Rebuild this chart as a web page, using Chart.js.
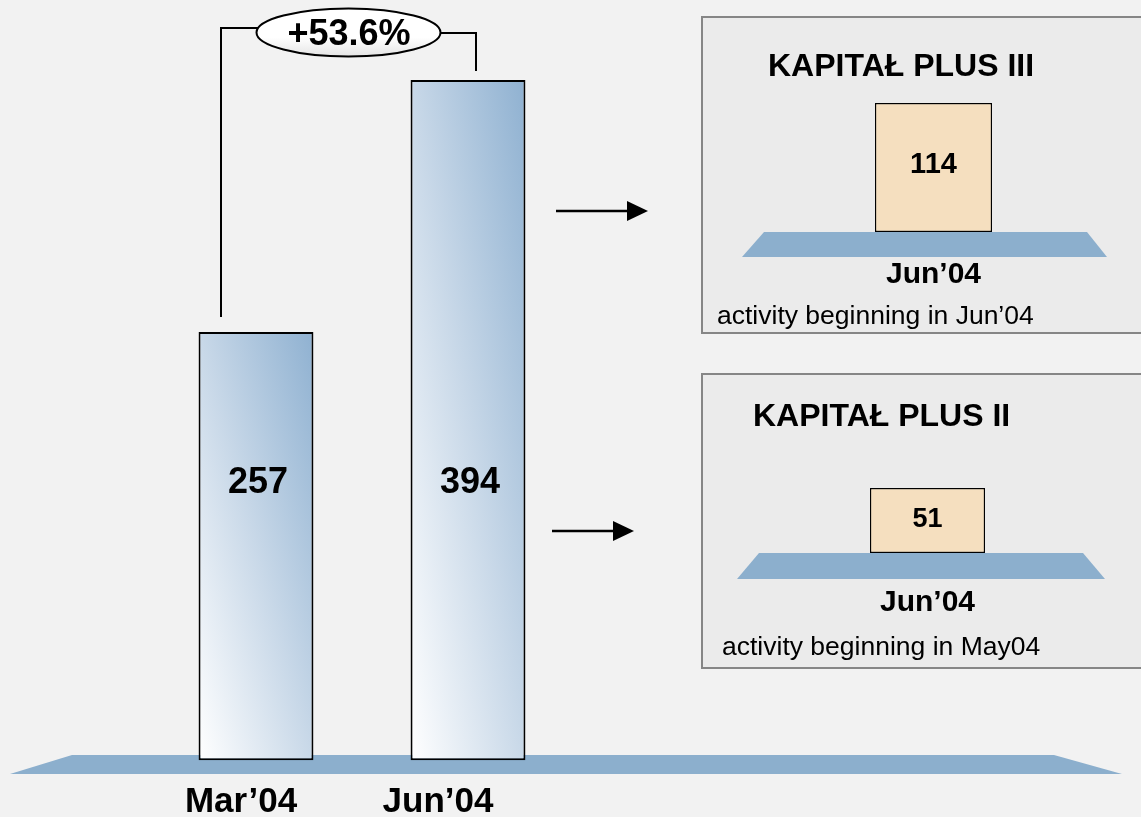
<!DOCTYPE html>
<html><head><meta charset="utf-8">
<script src="https://cdn.jsdelivr.net/npm/chart.js@4.4.0/dist/chart.umd.min.js"></script>
<style>
html,body{margin:0;padding:0;background:#f2f2f2;width:1141px;height:817px;overflow:hidden;}
.panel{position:absolute;background:#ebebeb;border:2px solid #868686;border-right:none;box-sizing:border-box;}
canvas{position:absolute;left:0;top:0;}
</style></head><body>
<div class="panel" style="left:701px;top:16px;width:440px;height:318px"></div>
<div class="panel" style="left:701px;top:373px;width:440px;height:296px"></div>
<canvas id="main" width="1141" height="817"></canvas>
<canvas id="p1" width="1141" height="817"></canvas>
<canvas id="p2" width="1141" height="817"></canvas>
<script>
// ---- data ----
const mainCategories = ["Mar\u201904", "Jun\u201904"];
const mainValues = [257, 394];
const growthLabel = "+53.6%";

const panel1Title = "KAPITAŁ PLUS III";
const panel1Categories = ["Jun\u201904"];
const panel1Values = [114];
const panel1Note = "activity beginning in Jun\u201904";

const panel2Title = "KAPITAŁ PLUS II";
const panel2Categories = ["Jun\u201904"];
const panel2Values = [51];
const panel2Note = "activity beginning in May04";

// ---- styling ----
const FONT = '"Liberation Sans", Arial, Helvetica, sans-serif';
const FLOOR = '#8cafcd';
const MAIN_BASE = 24.2;     // value at the floor line (axis is broken)
const MAIN_BAR_PCT = 0.542;

function barGradient(ctx) {
  const chart = ctx.chart;
  if (!chart.chartArea || ctx.type !== 'data') return '#c0d2e4';
  const xs = chart.scales.x, ys = chart.scales.y;
  const cx = xs.getPixelForValue(ctx.dataIndex);
  const W = chart.chartArea.width / chart.data.labels.length * MAIN_BAR_PCT;
  const top = ys.getPixelForValue(ctx.raw), bottom = ys.getPixelForValue(MAIN_BASE);
  const H = bottom - top;
  const left = cx - W / 2;
  const k = 2 * W * H / (H * H + W * W);
  const g = chart.ctx.createLinearGradient(left, bottom, left + k * H, bottom - k * W);
  g.addColorStop(0, '#ffffff');
  g.addColorStop(0.5, '#c8d8e8');
  g.addColorStop(1, '#8fb1d1');
  return g;
}

function poly(ctx, pts, fill) {
  ctx.beginPath();
  ctx.moveTo(pts[0][0], pts[0][1]);
  for (let i = 1; i < pts.length; i++) ctx.lineTo(pts[i][0], pts[i][1]);
  ctx.closePath();
  ctx.fillStyle = fill;
  ctx.fill();
}

function arrow(ctx, x0, x1, y) {
  ctx.save();
  ctx.strokeStyle = '#000'; ctx.lineWidth = 2.5;
  ctx.beginPath(); ctx.moveTo(x0, y); ctx.lineTo(x1 - 20, y); ctx.stroke();
  poly(ctx, [[x1 - 21, y - 10], [x1, y], [x1 - 21, y + 10]], '#000');
  ctx.restore();
}

const mainDecor = {
  id: 'mainDecor',
  beforeDatasetsDraw(chart) {
    const ctx = chart.ctx;
    poly(ctx, [[72, 755], [1054, 755], [1122, 774], [10, 774]], FLOOR);
  },
  afterDatasetsDraw(chart) {
    const ctx = chart.ctx;
    const xs = chart.scales.x, ys = chart.scales.y;
    const nudge = [-15, -30];
    ctx.save();
    ctx.fillStyle = '#000';
    ctx.textAlign = 'center';
    ctx.textBaseline = 'alphabetic';
    mainValues.forEach((v, i) => {
      const x = xs.getPixelForValue(i);
      ctx.font = 'bold 36px ' + FONT;
      ctx.fillText(String(v), x + 2, 493);
      ctx.font = 'bold 35px ' + FONT;
      ctx.fillText(mainCategories[i], x + nudge[i], 812);
    });
    // bracket
    const x0 = xs.getPixelForValue(0), x1 = xs.getPixelForValue(1);
    const t0 = ys.getPixelForValue(mainValues[0]), t1 = ys.getPixelForValue(mainValues[1]);
    ctx.strokeStyle = '#000'; ctx.lineWidth = 2;
    ctx.beginPath();
    ctx.moveTo(x0 - 35, t0 - 15); ctx.lineTo(x0 - 35, 28); ctx.lineTo(270, 28);
    ctx.moveTo(430, 33); ctx.lineTo(x1 + 8, 33); ctx.lineTo(x1 + 8, t1 - 9);
    ctx.stroke();
    // ellipse
    const g = ctx.createLinearGradient(0, 8, 0, 57);
    g.addColorStop(0, '#ffffff'); g.addColorStop(0.6, '#ffffff'); g.addColorStop(1, '#e4e4e4');
    ctx.beginPath();
    ctx.ellipse(348.5, 32.5, 92, 24, 0, 0, Math.PI * 2);
    ctx.fillStyle = g; ctx.fill();
    ctx.lineWidth = 2; ctx.stroke();
    ctx.fillStyle = '#000';
    ctx.font = 'bold 36px ' + FONT;
    ctx.fillText(growthLabel, 349, 45);
    // arrows
    arrow(ctx, 556, 648, 211);
    arrow(ctx, 552, 634, 531);
    ctx.restore();
  }
};

new Chart(document.getElementById('main'), {
  type: 'bar',
  data: {
    labels: mainCategories,
    datasets: [{
      data: mainValues,
      base: MAIN_BASE,
      backgroundColor: barGradient,
      borderColor: '#000',
      borderWidth: 2,
      borderSkipped: false,
      barPercentage: MAIN_BAR_PCT,
      categoryPercentage: 1,
      clip: false
    }]
  },
  options: {
    responsive: false, animation: false, events: [],
    layout: { padding: { left: 150, right: 567, top: 0, bottom: 12.3 } },
    scales: { x: { display: false }, y: { display: false, min: 0, max: 437.5 } },
    plugins: { legend: { display: false }, tooltip: { enabled: false } }
  },
  plugins: [mainDecor]
});

function makePanel(id, cats, vals, title, note, geo) {
  const decor = {
    id: 'panelDecor' + id,
    beforeDatasetsDraw(chart) {
      poly(chart.ctx, geo.floor, FLOOR);
    },
    afterDatasetsDraw(chart) {
      const ctx = chart.ctx;
      const xs = chart.scales.x;
      ctx.save();
      ctx.fillStyle = '#000';
      ctx.textBaseline = 'alphabetic';
      ctx.textAlign = 'left';
      ctx.font = 'bold 32px ' + FONT;
      ctx.fillText(title, geo.titleX, geo.titleY);
      ctx.font = '26.5px ' + FONT;
      ctx.fillText(note, geo.noteX, geo.noteY);
      ctx.textAlign = 'center';
      vals.forEach((v, i) => {
        const x = xs.getPixelForValue(i);
        ctx.font = 'bold ' + geo.valSize + 'px ' + FONT;
        ctx.fillText(String(v), x, geo.valY);
        ctx.font = 'bold 30px ' + FONT;
        ctx.fillText(cats[i], x, geo.catY);
      });
      ctx.restore();
    }
  };
  new Chart(document.getElementById(id), {
    type: 'bar',
    data: {
      labels: cats,
      datasets: [{
        data: vals,
        backgroundColor: '#f5dfbf',
        borderColor: '#000',
        borderWidth: 1.5,
        borderSkipped: false,
        barPercentage: 1,
        categoryPercentage: 1
      }]
    },
    options: {
      responsive: false, animation: false, events: [],
      layout: { padding: geo.pad },
      scales: { x: { display: false }, y: { display: false, min: 0, max: Math.max(...vals) } },
      plugins: { legend: { display: false }, tooltip: { enabled: false } }
    },
    plugins: [decor]
  });
}

makePanel('p1', panel1Categories, panel1Values, panel1Title, panel1Note, {
  pad: { left: 875, right: 149, top: 103, bottom: 585 },
  floor: [[764, 232], [1087, 232], [1107, 257], [742, 257]],
  titleX: 768, titleY: 76,
  noteX: 717, noteY: 324,
  valY: 173, valSize: 29, catY: 283
});
makePanel('p2', panel2Categories, panel2Values, panel2Title, panel2Note, {
  pad: { left: 870, right: 156, top: 488, bottom: 264 },
  floor: [[759, 553], [1083, 553], [1105, 579], [737, 579]],
  titleX: 753, titleY: 426,
  noteX: 722, noteY: 655,
  valY: 527, valSize: 27, catY: 611
});
</script>
</body></html>
